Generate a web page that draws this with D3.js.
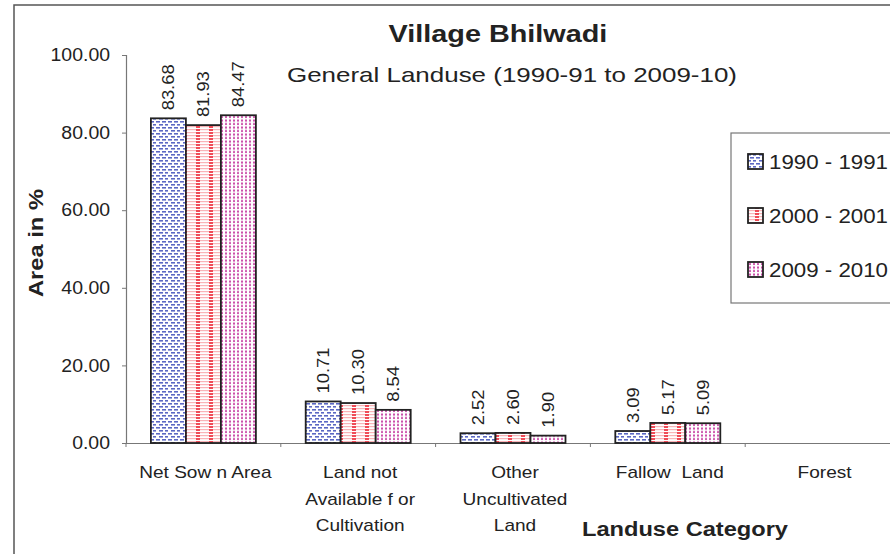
<!DOCTYPE html>
<html lang="en">
<head>
  <meta charset="UTF-8">
  <title>Village Bhilwadi</title>
  <script src="https://cdn.jsdelivr.net/npm/d3@7"></script>
  <style>
    body { margin: 0; background: #fff; }
    text { font-family: "Liberation Sans", Arial, sans-serif; fill: #222; }
  </style>
</head>
<body>
  <script>
    // chart data
    const categories = ["Net Sow n Area", "Land not|Available f or|Cultivation", "Other|Uncultivated|Land", "Fallow  Land", "Forest"];
    const seriesNames = ["1990 - 1991", "2000 - 2001", "2009 - 2010"];
    const values1990 = [83.68, 10.71, 2.52, 3.09, 0];
    const values2000 = [81.93, 10.30, 2.60, 5.17, 0];
    const values2009 = [84.47, 8.54, 1.90, 5.09, 0];
    const yTicks = [0, 20, 40, 60, 80, 100];

    const seriesValues = [values1990, values2000, values2009];

    const width = 890, height = 554;
    const plot = { left: 126, right: 900, top: 55, bottom: 443 };

    const svg = d3.select("body").append("svg")
      .attr("width", width)
      .attr("height", height);

    // widen text a bit, the original font is stretched
    function stretch(sel, k) {
      sel.each(function () {
        const w = this.getComputedTextLength();
        d3.select(this).attr("textLength", w * k).attr("lengthAdjust", "spacingAndGlyphs");
      });
    }

    // fill patterns
    const defs = svg.append("defs");

    let p1 = defs.append("pattern").attr("id", "pat0")
      .attr("patternUnits", "userSpaceOnUse").attr("width", 12).attr("height", 12);
    p1.append("rect").attr("width", 12).attr("height", 12).attr("fill", "#fff");
    [[0, 1], [3, 4], [6, 7], [9, 10], [6, 1], [9, 4], [0, 7], [3, 10]].forEach(function (d) {
      p1.append("rect").attr("x", d[0]).attr("y", d[1]).attr("width", 4).attr("height", 1.6).attr("fill", "#5b68c4");
    });

    let p2 = defs.append("pattern").attr("id", "pat1")
      .attr("patternUnits", "userSpaceOnUse").attr("width", 13).attr("height", 3);
    p2.append("rect").attr("width", 13).attr("height", 3).attr("fill", "#fff");
    p2.append("rect").attr("x", 0).attr("y", 0).attr("width", 13).attr("height", 1.2).attr("fill", "#f9b4b8");
    p2.append("rect").attr("x", 1).attr("y", 0).attr("width", 4).attr("height", 2).attr("fill", "#ef4b57");

    let p3 = defs.append("pattern").attr("id", "pat2")
      .attr("patternUnits", "userSpaceOnUse").attr("width", 4).attr("height", 3.5);
    p3.append("rect").attr("width", 4).attr("height", 3.5).attr("fill", "#fff");
    p3.append("rect").attr("x", 1).attr("y", 0.5).attr("width", 2).attr("height", 2).attr("fill", "#c94aa8");

    // outer frame
    svg.append("path")
      .attr("d", "M14,560 L14,5 L900,5")
      .attr("fill", "none").attr("stroke", "#555").attr("stroke-width", 1.5);

    // scales
    const step = (plot.right - plot.left) / categories.length;
    const x0 = d3.scaleBand().domain(d3.range(categories.length))
      .range([plot.left, plot.right]).padding(0);
    const xSub = d3.scaleBand().domain(d3.range(seriesNames.length))
      .range([0, 105]);
    const y = d3.scaleLinear().domain([0, 100]).range([plot.bottom, plot.top]);

    // y axis
    const yAxis = svg.append("g")
      .attr("transform", "translate(" + plot.left + ",0)")
      .call(d3.axisLeft(y).tickValues(yTicks).tickSize(4).tickPadding(12)
        .tickFormat(d3.format(".2f")));
    yAxis.select(".domain").attr("stroke", "#777").attr("stroke-width", 1.2);
    yAxis.selectAll(".tick line").attr("stroke", "#777");
    yAxis.selectAll("text").style("font-size", "18px").attr("fill", "#222")
      .attr("font-family", "Liberation Sans, Arial, sans-serif");
    stretch(yAxis.selectAll("text"), 1.08);

    // x axis
    const xAxis = svg.append("g")
      .attr("transform", "translate(0," + plot.bottom + ")")
      .call(d3.axisBottom(x0).tickSize(0).tickFormat(""));
    xAxis.select(".domain").attr("stroke", "#777").attr("stroke-width", 1.2);
    xAxis.selectAll(".sep")
      .data(d3.range(categories.length + 1))
      .enter().append("line")
      .attr("x1", function (d) { return plot.left + d * step; })
      .attr("x2", function (d) { return plot.left + d * step; })
      .attr("y1", 0).attr("y2", 4)
      .attr("stroke", "#777");

    // category labels
    categories.forEach(function (c, i) {
      const lines = c.split("|");
      lines.forEach(function (l, k) {
        const t = svg.append("text")
          .attr("x", x0(i) + x0.bandwidth() / 2 + 2)
          .attr("y", 478 + k * 26.5)
          .attr("text-anchor", "middle")
          .style("font-size", "17px")
          .style("white-space", "pre")
          .text(l);
        stretch(t, 1.12);
      });
    });

    // bars
    seriesValues.forEach(function (vals, s) {
      const g = svg.append("g");
      const pts = vals.map(function (v, i) { return { v: v, i: i }; }).filter(function (d) { return d.v > 0; });
      g.selectAll("rect")
        .data(pts)
        .enter().append("rect")
        .attr("x", function (d) { return x0(d.i) + (step - 105) / 2 + xSub(s); })
        .attr("y", function (d) { return y(d.v); })
        .attr("width", xSub.bandwidth())
        .attr("height", function (d) { return y(0) - y(d.v); })
        .attr("fill", "url(#pat" + s + ")")
        .attr("stroke", "#222")
        .attr("stroke-width", 1.8);

      const labels = g.selectAll("text")
        .data(pts)
        .enter().append("text")
        .attr("transform", function (d) {
          const cx = x0(d.i) + (step - 105) / 2 + xSub(s) + xSub.bandwidth() / 2 + 6;
          return "translate(" + cx + "," + (y(d.v) - 8) + ") rotate(-90)";
        })
        .style("font-size", "17px")
        .text(function (d) { return d.v.toFixed(2); });
      stretch(labels, 1.08);
    });

    // titles
    let t1 = svg.append("text")
      .attr("x", 498).attr("y", 42)
      .attr("text-anchor", "middle")
      .style("font-size", "24px").style("font-weight", "bold")
      .text("Village Bhilwadi");
    stretch(t1, 1.2);

    let t2 = svg.append("text")
      .attr("x", 512).attr("y", 82)
      .attr("text-anchor", "middle")
      .style("font-size", "21px")
      .text("General Landuse (1990-91 to 2009-10)");
    t2.attr("textLength", 450).attr("lengthAdjust", "spacingAndGlyphs");

    let t3 = svg.append("text")
      .attr("transform", "translate(43,243) rotate(-90)")
      .attr("text-anchor", "middle")
      .style("font-size", "20px").style("font-weight", "bold")
      .text("Area in %");
    t3.attr("textLength", 108).attr("lengthAdjust", "spacingAndGlyphs");

    let t4 = svg.append("text")
      .attr("x", 685).attr("y", 536)
      .attr("text-anchor", "middle")
      .style("font-size", "20px").style("font-weight", "bold")
      .text("Landuse Category");
    t4.attr("textLength", 206).attr("lengthAdjust", "spacingAndGlyphs");

    // legend
    const legend = svg.append("g");
    legend.append("rect")
      .attr("x", 731).attr("y", 133).attr("width", 180).attr("height", 170)
      .attr("fill", "#fff").attr("stroke", "#777").attr("stroke-width", 1.2);
    seriesNames.forEach(function (n, i) {
      const ly = 162 + i * 54;
      legend.append("rect")
        .attr("x", 748).attr("y", ly - 8).attr("width", 15).attr("height", 15)
        .attr("fill", "url(#pat" + i + ")")
        .attr("stroke", "#222").attr("stroke-width", 1.8);
      legend.append("text")
        .attr("x", 769).attr("y", ly + 7)
        .style("font-size", "20px")
        .attr("textLength", 119).attr("lengthAdjust", "spacingAndGlyphs")
        .text(n);
    });
  </script>
</body>
</html>
